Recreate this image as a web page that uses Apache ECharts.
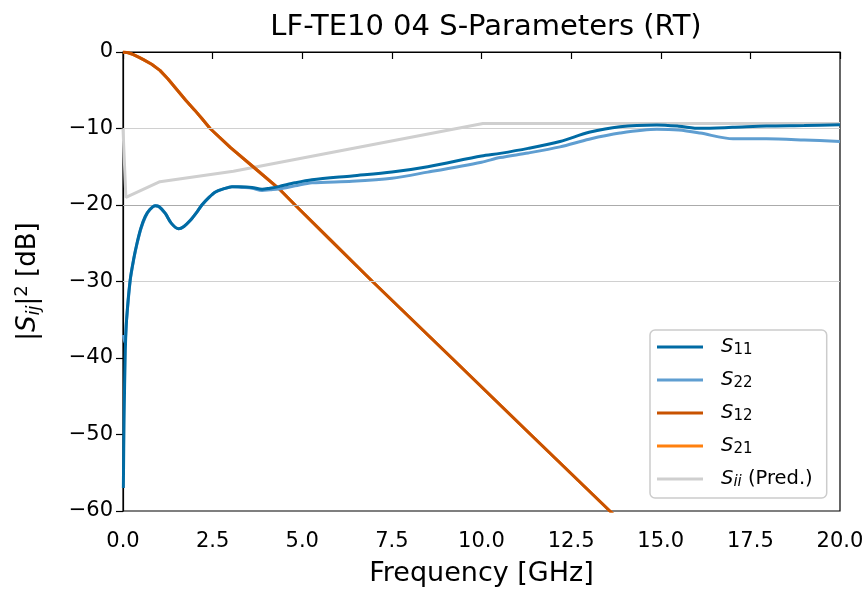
<!DOCTYPE html>
<html>
<head>
<meta charset="utf-8">
<script src="https://cdn.jsdelivr.net/npm/echarts@6/dist/echarts.min.js"></script>
<style>
  html, body { margin: 0; padding: 0; background: #fff; }
  #chart { width: 868px; height: 589px; }
</style>
</head>
<body>
<div id="chart"></div>
<script>
// [frequency GHz, |S|^2 dB]
const s11Points = [
  [0.01, -57], [0.03, -48], [0.065, -39], [0.1, -35], [0.2, -29.8], [0.3, -27],
  [0.39, -25], [0.5, -23], [0.62, -21.5], [0.75, -20.6], [0.9, -20.1], [1.0, -20.2],
  [1.18, -21.1], [1.35, -22.4], [1.55, -23.1], [1.7, -22.8], [1.88, -22], [2.05, -21],
  [2.2, -20], [2.4, -19], [2.58, -18.3], [2.8, -17.9], [3.04, -17.6], [3.3, -17.6],
  [3.6, -17.7], [3.88, -17.95], [4.1, -17.8], [4.34, -17.6], [4.8, -17.1], [5.27, -16.7],
  [6.39, -16.2], [7.5, -15.7], [8.5, -15.0], [10, -13.6], [10.52, -13.25], [11.3, -12.6],
  [12.19, -11.7], [13, -10.5], [13.86, -9.76], [14.89, -9.54], [15.5, -9.7], [16.1, -9.98],
  [17, -9.85], [17.95, -9.67], [19, -9.6], [20, -9.5]
];
const s22Points = [
  [0.01, -37], [0.05, -38], [0.1, -35], [0.2, -29.9], [0.3, -27.1],
  [0.39, -25.1], [0.5, -23.1], [0.62, -21.6], [0.75, -20.6], [0.9, -20.1], [1.0, -20.2],
  [1.18, -21.1], [1.35, -22.4], [1.55, -23.1], [1.7, -22.8], [1.88, -22], [2.05, -21],
  [2.2, -20], [2.4, -19], [2.58, -18.3], [2.8, -17.9], [3.04, -17.6], [3.3, -17.7],
  [3.6, -17.8], [3.88, -18.1], [4.1, -18.0], [4.34, -17.9], [4.8, -17.5], [5.27, -17.1],
  [6.39, -16.9], [7.5, -16.5], [8.5, -15.7], [10, -14.4], [10.52, -13.8], [11.3, -13.2],
  [12.19, -12.4], [13, -11.4], [13.86, -10.6], [14.89, -10.1], [15.5, -10.2], [16.1, -10.6],
  [17.02, -11.35], [17.95, -11.35], [19, -11.5], [20, -11.7]
];
const s12Points = [
  [0, 0], [0.15, -0.1], [0.29, -0.35], [0.45, -0.7], [0.57, -1.0], [0.8, -1.6],
  [1.03, -2.4], [1.25, -3.5], [1.5, -4.9], [1.75, -6.3], [2.0, -7.6], [2.2, -8.7],
  [2.43, -10], [3.0, -12.5], [3.63, -15], [4.38, -18], [4.8, -20], [5.77, -24.5],
  [6.96, -30], [9.17, -40], [11.37, -50], [13.58, -60], [14.2, -62.8]
];
const s21Points = [
  [0, 0], [0.15, -0.1], [0.29, -0.35], [0.45, -0.7], [0.57, -1.0], [0.8, -1.6],
  [1.03, -2.4], [1.25, -3.5], [1.5, -4.9], [1.75, -6.3], [2.0, -7.6], [2.2, -8.7],
  [2.43, -10], [3.0, -12.5], [3.63, -15], [4.38, -18], [4.8, -20], [5.77, -24.5],
  [6.96, -30], [9.17, -40], [11.37, -50], [13.58, -60], [14.2, -62.8]
];
const predPoints = [
  [0, -10], [0.08, -19], [1.03, -16.95], [3.08, -15.6], [10.04, -9.35], [20, -9.35]
];
const refLevels = [-10, -20, -30];
const refColors = ['#d0d0d0', '#ababab', '#d0d0d0'];

const xTicks = { min: 0, max: 20, interval: 2.5 };
const yTicks = { min: -60, max: 0, interval: 10 };

const FONT = 'DejaVu Sans';
const legendRich = {
  s: { fontFamily: FONT, fontSize: 19.5, fontStyle: 'italic', lineHeight: 22, padding: [0, 0, 0, 13], color: '#000' },
  sub: { fontFamily: FONT, fontSize: 15, lineHeight: 13, verticalAlign: 'bottom', color: '#000' },
  isub: { fontFamily: FONT, fontSize: 15, fontStyle: 'italic', lineHeight: 13, verticalAlign: 'bottom', color: '#000' },
  t: { fontFamily: FONT, fontSize: 19.5, lineHeight: 22, color: '#000' }
};
const legendLabels = {
  'S11': '{s|S}{sub|11}',
  'S22': '{s|S}{sub|22}',
  'S12': '{s|S}{sub|12}',
  'S21': '{s|S}{sub|21}',
  'Sii (Pred.)': '{s|S}{isub|ii}{t| (Pred.)}'
};

function lineSeries(name, points, color, z, width, smooth) {
  return {
    name: name,
    type: 'line',
    data: points,
    showSymbol: false,
    smooth: smooth,
    z: z,
    lineStyle: { color: color, width: width },
    itemStyle: { color: color }
  };
}

const chart = echarts.init(document.getElementById('chart'));

const predSeries = lineSeries('Sii (Pred.)', predPoints, '#cfcfcf', 1, 3, false);
predSeries.markLine = {
  silent: true,
  symbol: 'none',
  label: { show: false },
  data: refLevels.map((v, i) => ({ yAxis: v, lineStyle: { color: refColors[i], width: 1.2, type: 'solid' } }))
};

chart.setOption({
  animation: false,
  textStyle: { fontFamily: FONT },
  title: {
    text: 'LF-TE10 04 S-Parameters (RT)',
    left: 481,
    textAlign: 'center',
    top: 8,
    textStyle: { fontFamily: FONT, fontSize: 29, fontWeight: 'normal', color: '#000' }
  },
  grid: {
    left: 123, right: 28, top: 52, bottom: 78,
    outerBoundsMode: 'none',
    containLabel: false,
    show: true, borderColor: '#000', borderWidth: 1.2
  },
  legend: {
    orient: 'vertical',
    left: 650,
    top: 330,
    data: ['S11', 'S22', 'S12', 'S21', 'Sii (Pred.)'],
    icon: 'rect',
    itemWidth: 46,
    itemHeight: 3,
    itemGap: 12,
    padding: [7, 14, 8, 7],
    borderColor: '#cccccc',
    borderWidth: 1.5,
    borderRadius: 5,
    backgroundColor: 'rgba(255,255,255,0.85)',
    formatter: (name) => legendLabels[name],
    textStyle: { rich: legendRich }
  },
  xAxis: {
    type: 'value',
    min: xTicks.min, max: xTicks.max, interval: xTicks.interval,
    name: 'Frequency [GHz]',
    nameLocation: 'middle',
    nameGap: 49,
    nameTextStyle: { fontFamily: FONT, fontSize: 27, color: '#000' },
    axisLine: { show: true, lineStyle: { color: '#000', width: 1.2 } },
    axisTick: { show: true, inside: false, length: 7, lineStyle: { color: '#000', width: 1.2 } },
    axisLabel: {
      margin: 20, fontFamily: FONT, fontSize: 21, color: '#000',
      formatter: (v) => v.toFixed(1)
    },
    splitLine: { show: false }
  },
  yAxis: {
    type: 'value',
    min: yTicks.min, max: yTicks.max, interval: yTicks.interval,
    name: '{n||}{s|S}{sub|ij}{n||}{sup|2}{n| [dB]}',
    nameLocation: 'middle',
    nameRotate: 90,
    nameGap: 80,
    nameTextStyle: {
      rich: {
        n: { fontFamily: FONT, fontSize: 26, lineHeight: 30, color: '#000' },
        s: { fontFamily: FONT, fontSize: 26, fontStyle: 'italic', lineHeight: 30, color: '#000' },
        sub: { fontFamily: FONT, fontSize: 18, fontStyle: 'italic', lineHeight: 16, verticalAlign: 'bottom', color: '#000' },
        sup: { fontFamily: FONT, fontSize: 18, lineHeight: 16, verticalAlign: 'top', color: '#000' }
      }
    },
    axisLine: { show: true, lineStyle: { color: '#000', width: 1.2 } },
    axisTick: { show: true, inside: false, length: 7, lineStyle: { color: '#000', width: 1.2 } },
    axisLabel: {
      margin: 10, fontFamily: FONT, fontSize: 21, color: '#000',
      formatter: (v) => String(v).replace('-', '\u2212')
    },
    splitLine: { show: false }
  },
  series: [
    predSeries,
    lineSeries('S21', s21Points, '#ff800e', 3, 3, false),
    lineSeries('S12', s12Points, '#c85200', 4, 3, false),
    lineSeries('S22', s22Points, '#5f9ed1', 5, 3, 0.3),
    lineSeries('S11', s11Points, '#006ba4', 6, 3, 0.3)
  ]
});
</script>
</body>
</html>
